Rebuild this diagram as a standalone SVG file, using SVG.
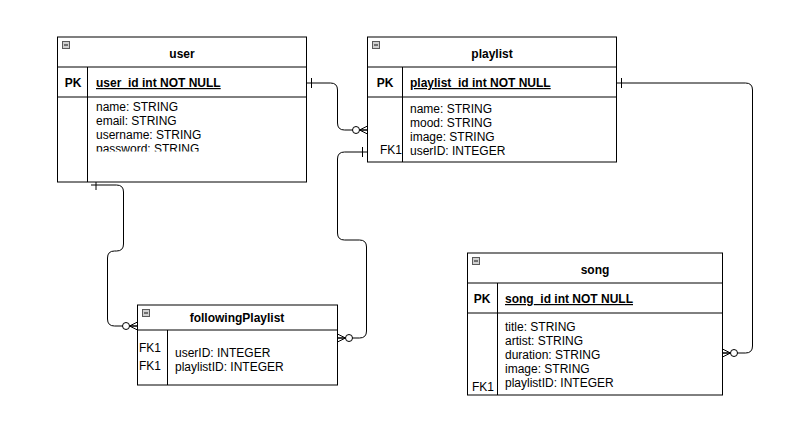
<svg xmlns="http://www.w3.org/2000/svg" width="792" height="442" viewBox="0 0 792 442">
<style>
.bg{fill:#fff}
.box{fill:#fff;stroke:#000;stroke-width:1}
.ln{stroke:#000;stroke-width:1;fill:none}
.t{font-family:"Liberation Sans",Arial,Helvetica,sans-serif;font-size:12px;fill:#000}
.b{font-weight:bold}
.u{text-decoration:underline}
.c{text-anchor:middle}
.edge{fill:none;stroke:#000;stroke-width:1}
.icon{fill:#d0d0d0;stroke:#5a5a5a;stroke-width:1}
.dash{stroke:#111;stroke-width:1}
</style>
<defs>
<marker id="one" markerUnits="userSpaceOnUse" markerWidth="20" markerHeight="20" viewBox="-10 -10 20 20" refX="0" refY="0" orient="auto" overflow="visible">
<path d="M5,-5V5" stroke="#000" stroke-width="1" fill="none"/>
</marker>
<marker id="zeroMany" markerUnits="userSpaceOnUse" markerWidth="30" markerHeight="20" viewBox="-20 -10 30 20" refX="0" refY="0" orient="auto" overflow="visible">
<path d="M0,-4L-8,0L0,4M-8,0H0" stroke="#000" stroke-width="1" fill="none"/>
<circle cx="-11.5" cy="0" r="3.5" fill="#fff" stroke="#000" stroke-width="1"/>
</marker>
<clipPath id="userBody"><rect x="88" y="98" width="218" height="53.5"/></clipPath>
</defs>
<rect class="bg" x="0" y="0" width="792" height="442"/>

<g id="connectors">
<path class="edge" d="M306.5,83 H330.5 Q337.5,83 337.5,90 V123 Q337.5,130 344.5,130 H367.5" marker-start="url(#one)" marker-end="url(#zeroMany)"/>
<path class="edge" d="M367.5,152 H344.5 Q337.5,152 337.5,159 V233 Q337.5,240 344.5,240 H359.5 Q366.5,240 366.5,247 V331 Q366.5,338 359.5,338 H337.5" marker-start="url(#one)" marker-end="url(#zeroMany)"/>
<path class="edge" d="M616.5,83 H745.5 Q752.5,83 752.5,90 V346 Q752.5,353 745.5,353 H722.5" marker-start="url(#one)" marker-end="url(#zeroMany)"/>
<path class="edge" d="M91,185 H116.5 Q123.5,185 123.5,192 V244 Q123.5,251 116.5,251 H114.5 Q107.5,251 107.5,258 V319 Q107.5,326 114.5,326 H137.5" marker-start="url(#one)" marker-end="url(#zeroMany)"/>
</g>

<g id="user">
<rect class="box" x="57.5" y="37" width="249" height="145"/>
<path class="ln" d="M57.5,67H306.5M57.5,97H306.5M87.5,67V182"/>
<rect class="icon" x="62.5" y="41.5" width="7" height="7"/>
<path class="dash" d="M64,45H68"/>
<text class="t b c" x="182" y="58">user</text>
<text class="t b c" x="73" y="87">PK</text>
<text class="t b u" x="96" y="87">user_id int NOT NULL</text>
<g clip-path="url(#userBody)">
<text class="t" x="96" y="111">name: STRING</text>
<text class="t" x="96" y="125">email: STRING</text>
<text class="t" x="96" y="139">username: STRING</text>
<text class="t" x="96" y="153">password: STRING</text>
</g>
</g>

<g id="playlist">
<rect class="box" x="367.5" y="37" width="249" height="125"/>
<path class="ln" d="M367.5,67H616.5M367.5,97H616.5M402.5,67V162"/>
<rect class="icon" x="372.5" y="41.5" width="7" height="7"/>
<path class="dash" d="M374,45H378"/>
<text class="t b c" x="492" y="58">playlist</text>
<text class="t b c" x="385" y="87">PK</text>
<text class="t b u" x="410" y="87">playlist_id int NOT NULL</text>
<text class="t" x="410" y="113">name: STRING</text>
<text class="t" x="410" y="127">mood: STRING</text>
<text class="t" x="410" y="141">image: STRING</text>
<text class="t" x="410" y="155">userID: INTEGER</text>
<text class="t" x="380" y="153.5">FK1</text>
</g>

<g id="song">
<rect class="box" x="467.5" y="253" width="255" height="142"/>
<path class="ln" d="M467.5,283H722.5M467.5,313H722.5M497.5,283V395"/>
<rect class="icon" x="472.5" y="257.5" width="7" height="7"/>
<path class="dash" d="M474,261H478"/>
<text class="t b c" x="595" y="274">song</text>
<text class="t b c" x="482" y="303">PK</text>
<text class="t b u" x="505" y="303">song_id int NOT NULL</text>
<text class="t" x="505" y="330.5">title: STRING</text>
<text class="t" x="505" y="344.5">artist: STRING</text>
<text class="t" x="505" y="358.5">duration: STRING</text>
<text class="t" x="505" y="372.5">image: STRING</text>
<text class="t" x="505" y="386.5">playlistID: INTEGER</text>
<text class="t" x="472" y="391">FK1</text>
</g>

<g id="followingPlaylist">
<rect class="box" x="137.5" y="305" width="200" height="80"/>
<path class="ln" d="M137.5,330H337.5M167.5,330V385"/>
<rect class="icon" x="142.5" y="309.5" width="7" height="7"/>
<path class="dash" d="M144,313H148"/>
<text class="t b c" x="237" y="322">followingPlaylist</text>
<text class="t" x="139" y="352">FK1</text>
<text class="t" x="139" y="370">FK1</text>
<text class="t" x="175" y="357">userID: INTEGER</text>
<text class="t" x="175" y="371">playlistID: INTEGER</text>
</g>
</svg>
